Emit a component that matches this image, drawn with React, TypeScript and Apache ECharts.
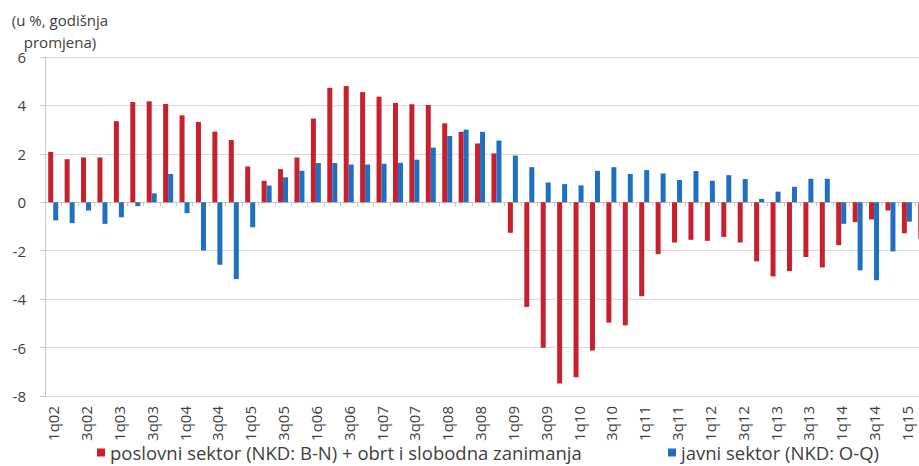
import React, { useEffect, useRef } from "react";
import * as echarts from "echarts";

const categories = [
  "1q02","2q02","3q02","4q02","1q03","2q03","3q03","4q03","1q04","2q04","3q04","4q04",
  "1q05","2q05","3q05","4q05","1q06","2q06","3q06","4q06","1q07","2q07","3q07","4q07",
  "1q08","2q08","3q08","4q08","1q09","2q09","3q09","4q09","1q10","2q10","3q10","4q10",
  "1q11","2q11","3q11","4q11","1q12","2q12","3q12","4q12","1q13","2q13","3q13","4q13",
  "1q14","2q14","3q14","4q14","1q15","2q15",
];

const businessSector = [
  2.08, 1.78, 1.85, 1.85, 3.35, 4.14, 4.17, 4.06, 3.59, 3.32, 2.92, 2.57,
  1.48, 0.89, 1.37, 1.85, 3.46, 4.73, 4.8, 4.55, 4.36, 4.1, 4.05, 4.02,
  3.26, 2.91, 2.43, 2.02, -1.26, -4.32, -6.01, -7.48, -7.23, -6.12, -4.97, -5.08,
  -3.88, -2.14, -1.66, -1.55, -1.59, -1.43, -1.66, -2.44, -3.06, -2.84, -2.26, -2.69,
  -1.77, -0.82, -0.71, -0.34, -1.28, -1.5,
];

const publicSector = [
  -0.75, -0.86, -0.34, -0.89, -0.62, -0.16, 0.37, 1.17, -0.45, -1.99, -2.58, -3.17,
  -1.03, 0.69, 1.03, 1.3, 1.62, 1.62, 1.56, 1.56, 1.59, 1.63, 1.76, 2.26,
  2.74, 3.0, 2.91, 2.55, 1.93, 1.45, 0.82, 0.75, 0.7, 1.3, 1.45, 1.17,
  1.33, 1.19, 0.92, 1.29, 0.89, 1.12, 0.96, 0.14, 0.44, 0.64, 0.97, 0.97,
  -0.89, -2.81, -3.22, -2.03, -0.8, null,
];

const seriesNames = [
  "poslovni sektor (NKD: B-N) + obrt i slobodna zanimanja",
  "javni sektor (NKD: O-Q)",
];

const yAxisTitle = "(u %, godišnja\npromjena)";

const FONT = "'Open Sans', 'Noto Sans', sans-serif";
const TEXT = "#404040";
const RED = "#C8202C";
const BLUE = "#1F6FC2";

export default function App() {
  const ref = useRef<HTMLDivElement>(null);
  useEffect(() => {
    if (!ref.current) return;
    const chart = echarts.init(ref.current, null, { renderer: "svg" });
    chart.setOption({
      animation: false,
      backgroundColor: "#ffffff",
      textStyle: { fontFamily: FONT },
      grid: { left: 45, top: 57, bottom: 70, right: 18.5, containLabel: false },
      legend: [
        {
          data: [seriesNames[0]],
          left: 97,
          top: 443,
          padding: 0,
          icon: "rect",
          itemWidth: 8,
          itemHeight: 8,
          textStyle: { fontSize: 18.5, lineHeight: 19, color: TEXT, fontFamily: FONT },
        },
        {
          data: [seriesNames[1]],
          left: 668,
          top: 443,
          padding: 0,
          icon: "rect",
          itemWidth: 8,
          itemHeight: 8,
          textStyle: { fontSize: 18.5, lineHeight: 19, color: TEXT, fontFamily: FONT },
        },
      ],
      graphic: [
        {
          type: "text",
          x: 60,
          y: 9,
          style: {
            text: yAxisTitle,
            fill: TEXT,
            fontSize: 15,
            fontFamily: FONT,
            align: "center",
            verticalAlign: "top",
            lineHeight: 22,
          },
        },
      ],
      xAxis: [
        {
          type: "category",
          data: categories,
          position: "top",
          axisLine: { onZero: true, lineStyle: { color: "#c8c8c8", width: 1 } },
          axisTick: { show: true, inside: true, length: 4, interval: 0, lineStyle: { color: "#c8c8c8" } },
          axisLabel: { show: false },
          splitLine: { show: false },
        },
        {
          type: "category",
          data: categories,
          position: "bottom",
          axisLine: { onZero: false, show: true, lineStyle: { color: "#d9d9d9" } },
          axisTick: { show: false },
          axisLabel: {
            interval: 1,
            rotate: 90,
            fontSize: 15,
            color: TEXT,
            margin: 10,
            fontFamily: FONT,
          },
          splitLine: { show: false },
        },
      ],
      yAxis: {
        type: "value",
        min: -8,
        max: 6,
        interval: 2,
        axisLine: { show: true, lineStyle: { color: "#c8c8c8" } },
        axisTick: { show: true, length: 5, lineStyle: { color: "#c8c8c8" } },
        axisLabel: { fontSize: 15, color: TEXT, margin: 19, fontFamily: FONT },
        splitLine: { lineStyle: { color: "#d9d9d9", width: 1 } },
      },
      series: [
        {
          name: seriesNames[0],
          type: "bar",
          xAxisIndex: 0,
          data: businessSector,
          barWidth: 5,
          barGap: "0%",
          itemStyle: { color: RED },
        },
        {
          name: seriesNames[1],
          type: "bar",
          xAxisIndex: 0,
          data: publicSector,
          barWidth: 5,
          barGap: "0%",
          itemStyle: { color: BLUE },
        },
      ],
    });
    return () => chart.dispose();
  }, []);
  return (
    <div
      style={{ position: "fixed", left: 0, top: 0, width: 919, height: 466, overflow: "hidden", background: "#fff" }}
    >
      <div ref={ref} style={{ position: "absolute", left: 0, top: 0, width: 950, height: 466 }} />
    </div>
  );
}
